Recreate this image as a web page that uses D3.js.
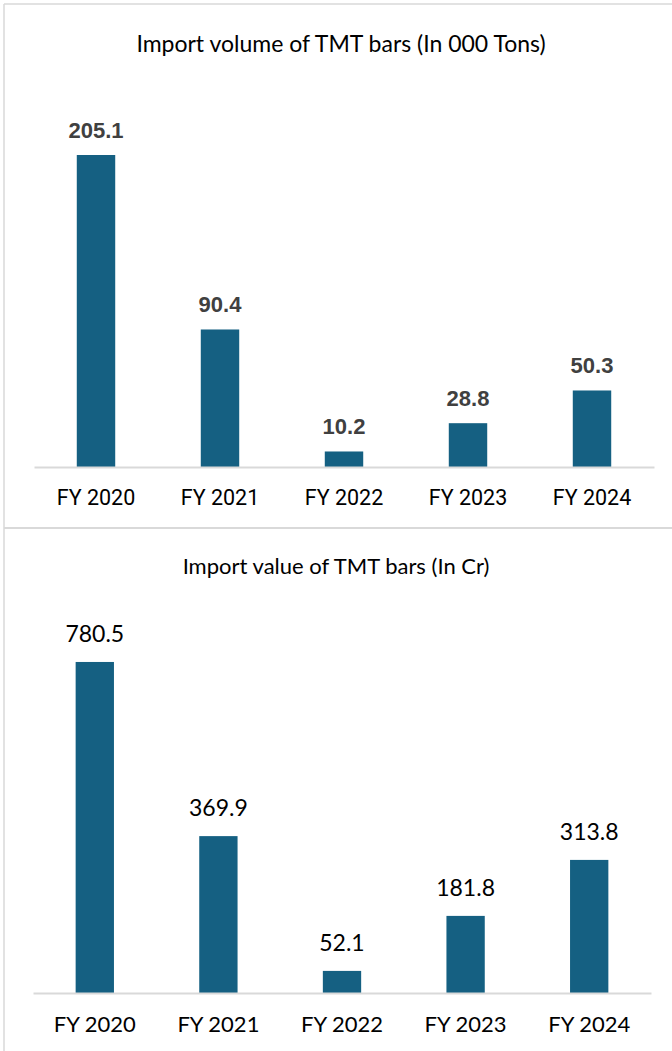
<!DOCTYPE html>
<html>
<head>
<meta charset="utf-8">
<script src="https://cdn.jsdelivr.net/npm/d3@7"></script>
<style>
  body { margin: 0; background: #ffffff; }
  svg { display: block; }
</style>
</head>
<body>
<div id="chart"></div>
<script>
var years = ["FY 2020", "FY 2021", "FY 2022", "FY 2023", "FY 2024"];
var volumeValues = [205.1, 90.4, 10.2, 28.8, 50.3];
var valueValues = [780.5, 369.9, 52.1, 181.8, 313.8];
var volumeTitle = "Import volume of TMT bars (In 000 Tons)";
var valueTitle = "Import value of TMT bars (In Cr)";

var width = 672, height = 1051;
var barColor = "#156082";
var gridColor = "#d9d9d9";
var gillFont = "'Gill Sans', 'Gill Sans MT', Lato, sans-serif";

var svg = d3.select("#chart")
    .append("svg")
    .attr("width", width)
    .attr("height", height);

// outer frame and divider between the two panels
svg.append("line").attr("x1", 4).attr("x2", 4).attr("y1", 4).attr("y2", height)
    .attr("stroke", gridColor).attr("stroke-width", 1.5);
svg.append("line").attr("x1", 4).attr("x2", width).attr("y1", 4).attr("y2", 4)
    .attr("stroke", gridColor).attr("stroke-width", 1.5);
svg.append("line").attr("x1", 4).attr("x2", width).attr("y1", 528).attr("y2", 528)
    .attr("stroke", gridColor).attr("stroke-width", 2);

function drawBarChart(g, opts){
    var x = d3.scaleBand()
        .domain(years)
        .range(opts.xRange)
        .paddingInner(0.69)
        .paddingOuter(0.345);

    var y = d3.scaleLinear()
        .domain([0, opts.max])
        .range([opts.base, opts.base - opts.pxHeight]);

    g.append("text")
        .attr("x", opts.titleX)
        .attr("y", opts.titleY)
        .attr("text-anchor", "middle")
        .style("font-family", gillFont)
        .style("font-size", opts.titleSize)
        .style("fill", "#000")
        .text(opts.title);

    g.selectAll(".bar")
        .data(opts.values).enter().append("rect")
        .attr("class", "bar")
        .attr("x", function(d, i){ return x(years[i]); })
        .attr("width", x.bandwidth())
        .attr("y", function(d){ return y(d); })
        .attr("height", function(d){ return y(0) - y(d); })
        .attr("fill", barColor);

    g.selectAll(".val")
        .data(opts.values).enter().append("text")
        .attr("class", "val")
        .attr("x", function(d, i){ return x(years[i]) + x.bandwidth() / 2; })
        .attr("y", function(d){ return y(d) - opts.labelGap; })
        .attr("text-anchor", "middle")
        .style("font-family", opts.valueFont)
        .style("font-weight", opts.valueWeight)
        .style("font-size", opts.valueSize)
        .style("fill", opts.valueColor)
        .text(function(d){ return d.toFixed(1); });

    var axis = d3.axisBottom(x).tickSize(0).tickPadding(opts.tickPad);
    var ax = g.append("g")
        .attr("transform", "translate(0," + opts.base + ")")
        .call(axis);
    ax.select(".domain").attr("stroke", gridColor).attr("stroke-width", 2);
    ax.selectAll(".tick text")
        .style("font-family", opts.tickFont)
        .style("font-size", opts.tickSize)
        .style("fill", "#000");
}

drawBarChart(svg.append("g"), {
    title: volumeTitle,
    titleSize: "23px",
    titleX: 341,
    values: volumeValues,
    titleY: 52,
    xRange: [34, 654],
    base: 467,
    max: 250,
    pxHeight: 380.3,
    labelGap: 17,
    valueFont: "'Liberation Sans', Arial, sans-serif",
    valueWeight: "bold",
    valueSize: "22px",
    valueColor: "#404040",
    tickFont: "Roboto, sans-serif",
    tickSize: "21.5px",
    tickPad: 23
});

drawBarChart(svg.append("g"), {
    title: valueTitle,
    titleSize: "22px",
    titleX: 336,
    values: valueValues,
    titleY: 574,
    xRange: [33, 651],
    base: 993,
    max: 800,
    pxHeight: 339.3,
    labelGap: 20,
    valueFont: gillFont,
    valueWeight: "normal",
    valueSize: "23px",
    valueColor: "#000",
    tickFont: gillFont,
    tickSize: "22px",
    tickPad: 23
});
</script>
</body>
</html>
